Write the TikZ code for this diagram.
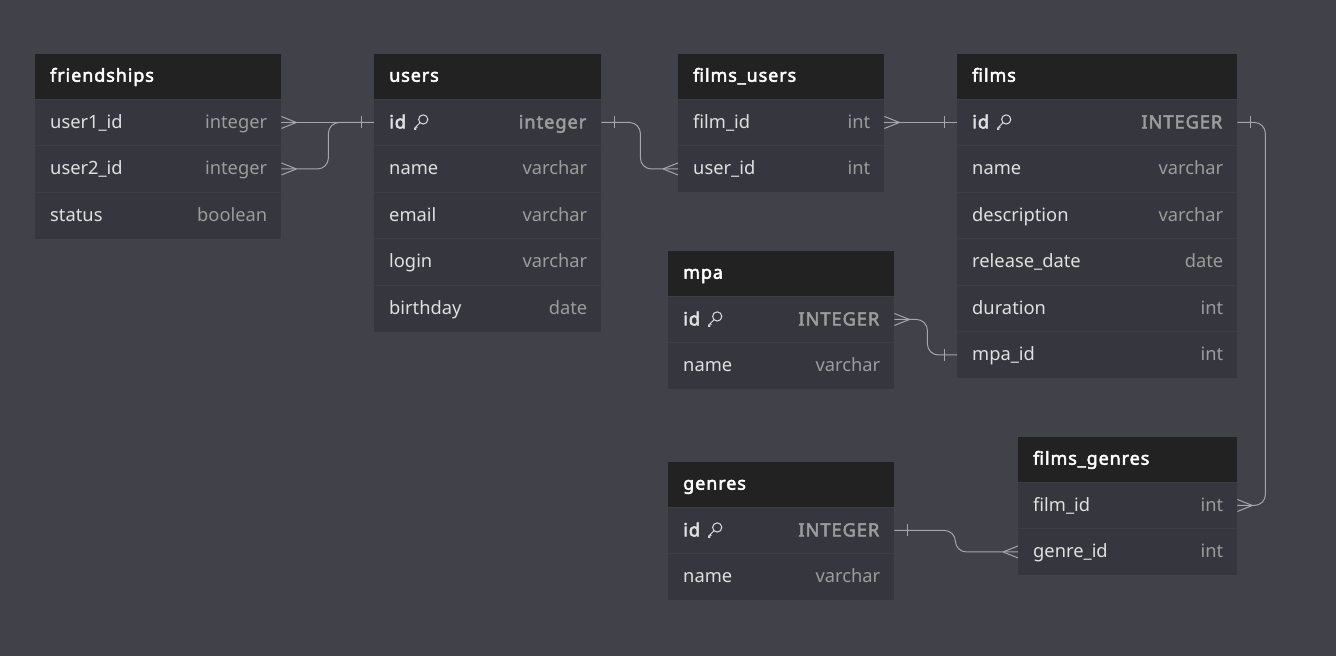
\documentclass[tikz,border=0pt]{standalone}
\usepackage{fontspec}
\setmainfont{Noto Sans}[AutoFakeBold=2.6,BoldFeatures={LetterSpace=5}]
\usepackage{xcolor}
\usepackage{tikz}
\usetikzlibrary{calc}

\definecolor{canvas}{HTML}{41414A}
\definecolor{headfill}{HTML}{222222}
\definecolor{rowfill}{HTML}{36363E}
\definecolor{rowline}{HTML}{3D3D46}
\definecolor{fieldcol}{HTML}{E0E0E0}
\definecolor{typecol}{HTML}{9C9C9C}
\definecolor{linkcol}{HTML}{A6A6AC}

\tikzset{
  tblhead/.style={rectangle,fill=headfill,inner sep=0,minimum height=45},
  tblrow/.style={rectangle,fill=rowfill,inner sep=0,minimum height=46.5},
  headtext/.style={inner sep=0,text=white,font=\fontsize{18}{21}\selectfont\bfseries},
  fieldtext/.style={inner sep=0,text=fieldcol,font=\fontsize{18.3}{21}\selectfont},
  typetext/.style={inner sep=0,text=typecol,font=\fontsize{18.3}{21}\selectfont},
  sepline/.style={draw=rowline,line width=0.8pt},
  link/.style={draw=linkcol,line width=1pt,rounded corners=11pt}
}

% key icon
\newcommand{\pkey}{\tikz[x=1pt,y=1pt,baseline=0pt]{%
  \draw[fieldcol,line width=1pt] (9.5,9) circle (4.6);
  \draw[fieldcol,line width=1pt,line join=round] (6.3,5.7) -- (0.8,0.2) -- (0.8,-1) -- (2.2,-1) -- (2.2,0) (2.4,1.8) -- (3.6,0.6);}}
\newcommand{\keyid}{\textbf{id}\hspace{7pt}\pkey}

% table: name, title, x, y, width, rows
\newcommand{\dbtable}[6]{%
  \node[tblhead,minimum width=#5,anchor=north west] (#1) at (#3,#4) {};
  \node[headtext,anchor=base west] at ([xshift=15,yshift=-5]#1.west) {#2};
  \foreach \f/\t [count=\i] in {#6} {
    \node[tblrow,minimum width=#5,anchor=north west] (#1-\i) at (#3,{#4+45+(\i-1)*46.5}) {};
    \draw[sepline] (#1-\i.north west) -- (#1-\i.north east);
    \node[fieldtext,anchor=base west] at ([xshift=15,yshift=-6]#1-\i.west) {\f};
    \node[typetext,anchor=base east] at ([xshift=-14,yshift=-6]#1-\i.east) {\t};
  }
}

% crow foot and bar ends (#2 = 1 right, -1 left)
\newcommand{\crowfoot}[2]{\draw[link] ($(#1)+(#2*15,0)$) -- ($(#1)+(0,-6)$) ($(#1)+(#2*15,0)$) -- ($(#1)+(0,6)$);}
\newcommand{\onebar}[2]{\draw[link] ($(#1)+(#2*13,-6)$) -- ($(#1)+(#2*13,6)$);}

\begin{document}
\begin{tikzpicture}[x=1pt,y=-1pt]
  \fill[canvas] (0,0) rectangle (1336,656);
  \useasboundingbox (0,0) rectangle (1336,656);

  % Tables
  \dbtable{friendships}{friendships}{35}{54}{246}{user1\_id/integer, user2\_id/integer, status/boolean}
  \dbtable{users}{users}{374}{54}{227}{\keyid/\textbf{integer}, name/varchar, email/varchar, login/varchar, birthday/date}
  \dbtable{films_users}{films\_users}{678}{54}{206}{film\_id/int, user\_id/int}
  \dbtable{films}{films}{957}{54}{280}{\keyid/\textbf{INTEGER}, name/varchar, description/varchar, release\_date/date, duration/int, mpa\_id/int}
  \dbtable{mpa}{mpa}{668}{251}{226}{\keyid/\textbf{INTEGER}, name/varchar}
  \dbtable{genres}{genres}{668}{462}{226}{\keyid/\textbf{INTEGER}, name/varchar}
  \dbtable{films_genres}{films\_genres}{1018}{437}{219}{film\_id/int, genre\_id/int}

  % Links
  \draw[link] (friendships-1.east) -- (users-1.west);
  \draw[link] (friendships-2.east) -- ++(47,0) |- (users-1.west);
  \draw[link] (users-1.east) -- ++(39,0) |- (films_users-2.west);
  \draw[link] (films_users-1.east) -- (films-1.west);
  \draw[link] (films-1.east) -- ++(28,0) |- (films_genres-1.east);
  \draw[link] (mpa-1.east) -- ++(33,0) |- (films-6.west);
  \draw[link] (genres-1.east) -- ++(61,0) |- (films_genres-2.west);

  % Ends
  \crowfoot{friendships-1.east}{1}
  \crowfoot{friendships-2.east}{1}
  \onebar{users-1.west}{-1}
  \onebar{users-1.east}{1}
  \crowfoot{films_users-2.west}{-1}
  \crowfoot{films_users-1.east}{1}
  \onebar{films-1.west}{-1}
  \onebar{films-1.east}{1}
  \crowfoot{films_genres-1.east}{1}
  \crowfoot{mpa-1.east}{1}
  \onebar{films-6.west}{-1}
  \onebar{genres-1.east}{1}
  \crowfoot{films_genres-2.west}{-1}
\end{tikzpicture}
\end{document}
